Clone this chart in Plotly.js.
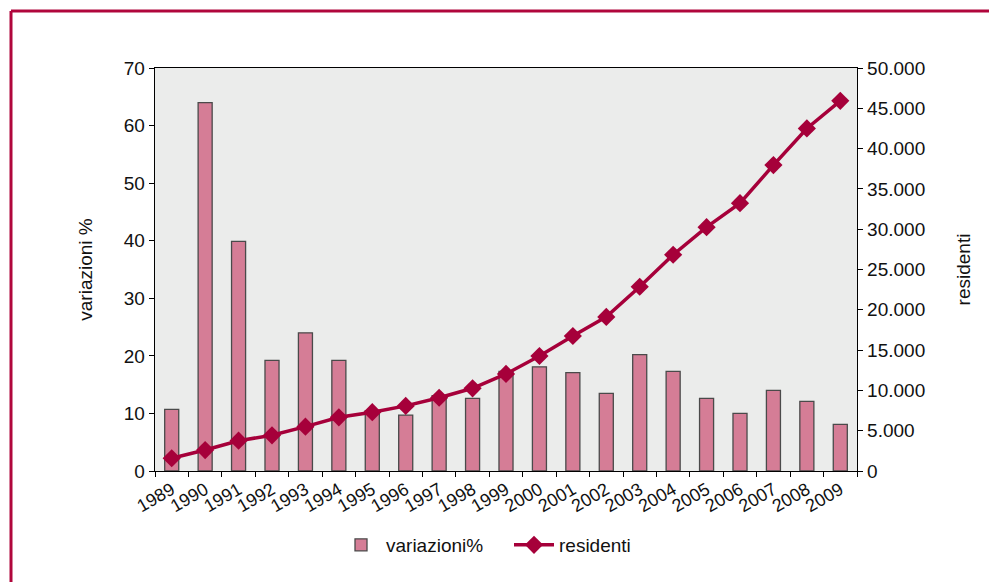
<!DOCTYPE html>
<html>
<head>
<meta charset="utf-8">
<script src="https://cdn.plot.ly/plotly-3.0.1.min.js"></script>
<style>
  html, body { margin: 0; padding: 0; background: #fff; }
  #plot { width: 989px; height: 582px; }
</style>
</head>
<body>
<div id="plot"></div>
<script>
const anni = ['1989','1990','1991','1992','1993','1994','1995','1996','1997','1998','1999',
              '2000','2001','2002','2003','2004','2005','2006','2007','2008','2009'];

// variazioni % (asse sinistro)
const variazioni = [10.7, 64.0, 39.9, 19.2, 24.0, 19.2, 10.5, 9.7, 13.1, 12.6, 17.3,
                    18.1, 17.1, 13.5, 20.2, 17.3, 12.6, 10.0, 14.0, 12.1, 8.1];

// residenti (asse destro)
const residenti = [1580, 2600, 3760, 4430, 5500, 6660, 7300, 8080, 9090, 10260, 12040,
                   14270, 16750, 19120, 22860, 26830, 30250, 33230, 37950, 42500, 45930];

const yTicks = [0, 10, 20, 30, 40, 50, 60, 70];
const y2Ticks = [0, 5000, 10000, 15000, 20000, 25000, 30000, 35000, 40000, 45000, 50000];
const y2Labels = ['0','5.000','10.000','15.000','20.000','25.000','30.000','35.000','40.000','45.000','50.000'];

const fnt = 'Liberation Sans, Arial, Helvetica, sans-serif';
const red = '#a6003a';

const bars = {
    type: 'bar',
    name: 'variazioni%',
    x: anni,
    y: variazioni,
    marker: {color: '#d57d96', line: {color: '#4a4a4a', width: 1.3}},
    yaxis: 'y'
};

const line = {
    type: 'scatter',
    mode: 'lines+markers',
    name: 'residenti',
    x: anni,
    y: residenti,
    line: {color: red, width: 3.5},
    marker: {symbol: 'diamond', size: 14, color: red},
    yaxis: 'y2'
};

// cornice rossa (in coordinate paper del riquadro del grafico)
const L = 155, R = 857, T = 68, B = 471;
const px = v => (v - L) / (R - L);
const py = v => (B - v) / (B - T);
const frame = {color: '#b0063c', width: 3};

const layout = {
    width: 989,
    height: 582,
    margin: {l: L, r: 989 - R, t: T, b: 582 - B, pad: 0},
    paper_bgcolor: '#ffffff',
    plot_bgcolor: '#ebeceb',
    font: {family: fnt, size: 19, color: '#111'},
    showlegend: true,
    bargap: 0.58,
    xaxis: {
        type: 'category',
        range: [-0.5, anni.length - 0.5],
        showline: true, linecolor: '#000', linewidth: 1.3, mirror: true,
        ticks: 'outside', ticklen: 5, tickcolor: '#000', tickson: 'boundaries',
        tickangle: -30,
        tickfont: {size: 18},
        showgrid: false, zeroline: false,
        fixedrange: true
    },
    yaxis: {
        range: [0, 70],
        tickvals: yTicks,
        showline: true, linecolor: '#000', linewidth: 1.3, mirror: true,
        ticks: 'outside', ticklen: 5, tickcolor: '#000',
        showgrid: false, zeroline: false,
        title: {text: 'variazioni %', font: {size: 19}, standoff: 26},
        automargin: false
    },
    yaxis2: {
        overlaying: 'y',
        side: 'right',
        range: [0, 50000],
        tickvals: y2Ticks,
        ticktext: y2Labels,
        showline: true, linecolor: '#000', linewidth: 1.3,
        ticks: 'outside', ticklen: 5, tickcolor: '#000',
        showgrid: false, zeroline: false,
        title: {text: 'residenti', font: {size: 19}, standoff: 32},
        automargin: false
    },
    legend: {
        orientation: 'h',
        x: px(336), xanchor: 'left',
        y: py(545), yanchor: 'middle',
        font: {size: 19},
        itemwidth: 40,
        entrywidth: 118,
        entrywidthmode: 'pixels',
        tracegroupgap: 0
    },
    shapes: [
        {type: 'line', xref: 'paper', yref: 'paper', x0: px(11), x1: 1.3, y0: py(11), y1: py(11), line: frame},
        {type: 'line', xref: 'paper', yref: 'paper', x0: px(11), x1: px(11), y0: py(11), y1: -0.4, line: frame}
    ]
};

Plotly.newPlot('plot', [bars, line], layout, {staticPlot: true, displayModeBar: false});
</script>
</body>
</html>
